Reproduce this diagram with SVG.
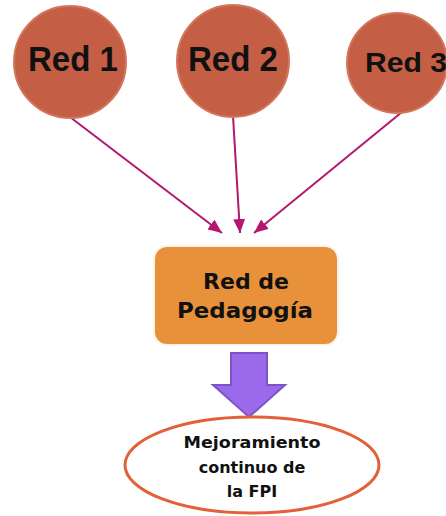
<svg xmlns="http://www.w3.org/2000/svg" width="446" height="516" viewBox="0 0 446 516">
<defs>
<style>
.red{fill:#C45F45;stroke:#D2775E;stroke-width:2}
.lbl{font-family:"DejaVu Sans","Liberation Sans",sans-serif;font-weight:bold;fill:#111;text-anchor:middle}
.big{font-family:"Liberation Sans",Arial,sans-serif;font-weight:bold;fill:#111;text-anchor:middle}
.con{stroke:#B3176E;stroke-width:2;fill:none;marker-end:url(#ah)}
</style>
<marker id="ah" markerWidth="14" markerHeight="12" refX="14" refY="6" orient="auto" markerUnits="userSpaceOnUse">
<path d="M0,0 L14,6 L0,12 Z" fill="#B3176E"/>
</marker>
</defs>
<rect width="446" height="516" fill="#fff"/>
<g id="connectors">
<line class="con" x1="70" y1="117" x2="222" y2="233"/>
<line class="con" x1="233" y1="116" x2="240" y2="233"/>
<line class="con" x1="402" y1="112" x2="254" y2="233"/>
<path d="M231,353 H267 V385 H285 L249,417 L213,385 H231 Z" fill="#9A6AEA" stroke="#7B55C8" stroke-width="2"/>
</g>
<g id="red1">
<circle class="red" cx="70" cy="62" r="56"/>
<text class="big" x="73" y="71" font-size="35" textLength="90" lengthAdjust="spacingAndGlyphs">Red 1</text>
</g>
<g id="red2">
<circle class="red" cx="233" cy="61" r="56"/>
<text class="big" x="233" y="71" font-size="35" textLength="90" lengthAdjust="spacingAndGlyphs">Red 2</text>
</g>
<g id="red3">
<circle class="red" cx="397" cy="63" r="50"/>
<text class="big" x="406" y="72" font-size="28" textLength="82" lengthAdjust="spacingAndGlyphs">Red 3</text>
</g>
<g id="pedagogia">
<rect x="154" y="246" width="184" height="99" rx="13" fill="#E8913B" stroke="#fdf3ea" stroke-width="2"/>
<text class="lbl" x="246" y="289" font-size="22">Red de</text>
<text class="lbl" x="245" y="318" font-size="22" textLength="136" lengthAdjust="spacingAndGlyphs">Pedagogía</text>
</g>
<g id="mejoramiento">
<ellipse cx="252" cy="465" rx="127" ry="48" fill="#fff" stroke="#E2603A" stroke-width="3"/>
<text class="lbl" x="252" y="448" font-size="16" textLength="137" lengthAdjust="spacingAndGlyphs">Mejoramiento</text>
<text class="lbl" x="252" y="473" font-size="16">continuo de</text>
<text class="lbl" x="252" y="497" font-size="16">la FPI</text>
</g>
</svg>
